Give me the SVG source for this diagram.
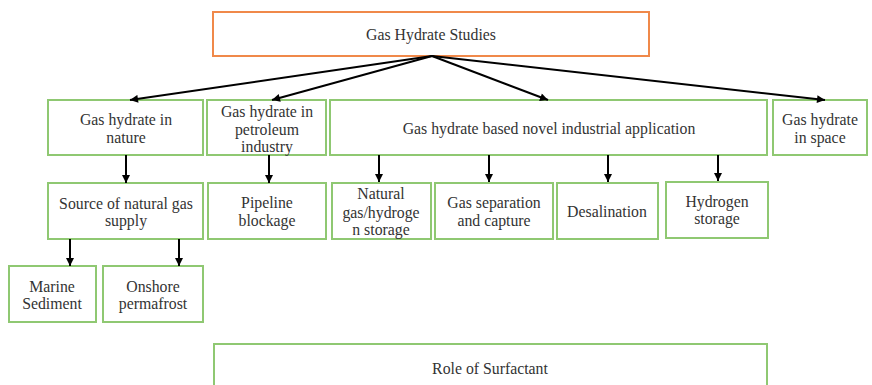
<svg xmlns="http://www.w3.org/2000/svg" width="872" height="385" viewBox="0 0 872 385">
<style>
.g{fill:#fff;stroke:#8fc872;stroke-width:2}
.o{fill:#fff;stroke:#f0894a;stroke-width:2}
text{font-family:"Liberation Serif","Times New Roman",serif;font-size:15.8px;fill:#333;text-anchor:middle;dominant-baseline:central}
.c line{stroke:#000;stroke-width:2;marker-end:url(#ah)}
</style>
<defs>
<marker id="ah" viewBox="0 0 10 10" refX="10" refY="5" markerUnits="userSpaceOnUse" markerWidth="10" markerHeight="8" orient="auto">
<path d="M0,0 L10,5 L0,10 z" fill="#000"/>
</marker>
</defs>
<rect width="872" height="385" fill="#fff"/>
<g id="n-root"><rect class="o" x="213" y="12" width="436" height="44"/><text x="431" y="34">Gas Hydrate Studies</text></g>
<g id="n-nature"><rect class="g" x="48" y="100" width="155" height="55"/><text x="126" y="119">Gas hydrate in</text><text x="126" y="137">nature</text></g>
<g id="n-petroleum"><rect class="g" x="207" y="100" width="119" height="55"/><text x="267" y="111">Gas hydrate in</text><text x="267" y="129">petroleum</text><text x="267" y="146">industry</text></g>
<g id="n-novel"><rect class="g" x="330" y="100" width="437" height="55"/><text x="549" y="128">Gas hydrate based novel industrial application</text></g>
<g id="n-space"><rect class="g" x="773" y="100" width="94" height="55"/><text x="820" y="119">Gas hydrate</text><text x="820" y="137">in space</text></g>
<g id="n-source"><rect class="g" x="48" y="183" width="155" height="56"/><text x="126" y="203">Source of natural gas</text><text x="126" y="220">supply</text></g>
<g id="n-pipeline"><rect class="g" x="208" y="183" width="118" height="56"/><text x="267" y="202">Pipeline</text><text x="267" y="220">blockage</text></g>
<g id="n-storage"><rect class="g" x="332" y="183" width="99" height="56"/><text x="381" y="193">Natural</text><text x="381" y="212">gas/hydroge</text><text x="381" y="229">n storage</text></g>
<g id="n-separation"><rect class="g" x="435" y="183" width="118" height="56"/><text x="494" y="202">Gas separation</text><text x="494" y="220">and capture</text></g>
<g id="n-desal"><rect class="g" x="557" y="183" width="101" height="56"/><text x="607" y="211">Desalination</text></g>
<g id="n-hydrogen"><rect class="g" x="666" y="182" width="102" height="56"/><text x="717" y="201">Hydrogen</text><text x="717" y="218">storage</text></g>
<g id="n-marine"><rect class="g" x="9" y="266" width="87" height="56"/><text x="52" y="286">Marine</text><text x="52" y="303">Sediment</text></g>
<g id="n-onshore"><rect class="g" x="103" y="266" width="100" height="56"/><text x="153" y="286">Onshore</text><text x="153" y="303">permafrost</text></g>
<g id="n-surfactant"><rect class="g" x="214" y="344" width="553" height="60"/><text x="490" y="368">Role of Surfactant</text></g>
<g class="c" id="connectors">
<line x1="432" y1="56" x2="130" y2="100"/>
<line x1="432" y1="56" x2="272" y2="100"/>
<line x1="432" y1="56" x2="548" y2="100"/>
<line x1="432" y1="56" x2="825" y2="100"/>
<line x1="126" y1="155" x2="126" y2="183"/>
<line x1="269" y1="155" x2="269" y2="183"/>
<line x1="379" y1="155" x2="379" y2="182"/>
<line x1="489" y1="155" x2="489" y2="182"/>
<line x1="608" y1="155" x2="608" y2="182"/>
<line x1="718" y1="155" x2="718" y2="181"/>
<line x1="70" y1="239" x2="70" y2="266"/>
<line x1="179" y1="239" x2="179" y2="266"/>
</g>
</svg>
